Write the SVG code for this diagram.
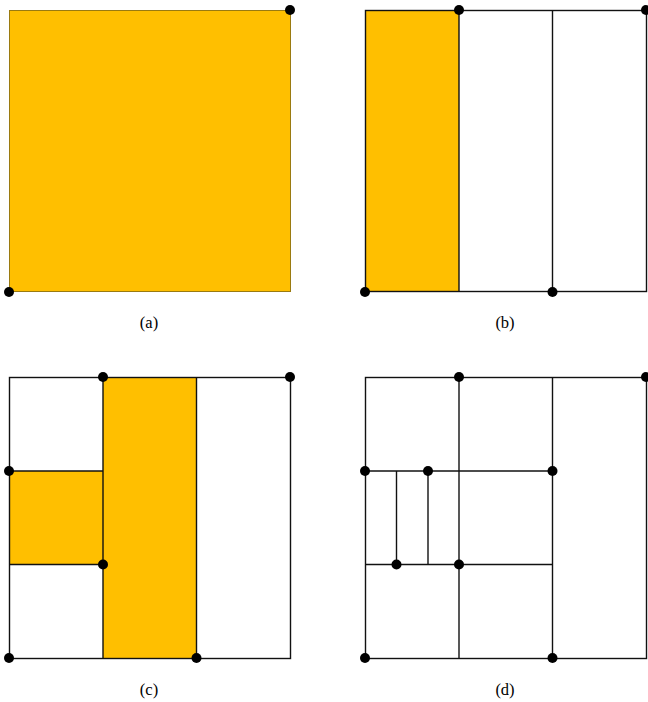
<svg xmlns="http://www.w3.org/2000/svg" width="648" height="702" viewBox="0 0 648 702">
<style>
.fill{fill:#FFBF00;stroke:none}
.ln{stroke:#111;stroke-width:1.4;fill:none}
.edge{stroke:#9a7a10;stroke-width:1;fill:#FFBF00}
.dot{fill:#000}
.lbl{font-family:"Liberation Serif","Times New Roman",serif;font-size:16.5px;text-anchor:middle;fill:#000}
</style>
<g id="panel-a">
<rect class="edge" x="9.5" y="10.5" width="281" height="281"/>
<circle class="dot" cx="290" cy="10" r="5"/>
<circle class="dot" cx="9" cy="292" r="5"/>
<text class="lbl" x="149" y="328">(a)</text>
</g>
<g id="panel-b">
<rect class="fill" x="365" y="10.5" width="94" height="281"/>
<rect class="ln" x="365.5" y="10.5" width="281" height="281"/>
<line class="ln" x1="459" y1="10.5" x2="459" y2="291.5"/>
<line class="ln" x1="552.5" y1="10.5" x2="552.5" y2="291.5"/>
<circle class="dot" cx="459" cy="10" r="5"/>
<circle class="dot" cx="646" cy="10" r="5"/>
<circle class="dot" cx="365" cy="292" r="5"/>
<circle class="dot" cx="552.5" cy="292" r="5"/>
<text class="lbl" x="505" y="328">(b)</text>
</g>
<g id="panel-c">
<rect class="fill" x="9" y="471" width="94" height="93"/>
<rect class="fill" x="103" y="377" width="93.5" height="281"/>
<rect class="ln" x="9.5" y="377.5" width="281" height="281"/>
<line class="ln" x1="103" y1="377.5" x2="103" y2="658.5"/>
<line class="ln" x1="196.5" y1="377.5" x2="196.5" y2="658.5"/>
<line class="ln" x1="9.5" y1="471" x2="103" y2="471"/>
<line class="ln" x1="9.5" y1="564.5" x2="103" y2="564.5"/>
<circle class="dot" cx="103" cy="377" r="5"/>
<circle class="dot" cx="290" cy="377" r="5"/>
<circle class="dot" cx="9" cy="471" r="5"/>
<circle class="dot" cx="103" cy="564.5" r="5"/>
<circle class="dot" cx="9" cy="658" r="5"/>
<circle class="dot" cx="196.5" cy="658" r="5"/>
<text class="lbl" x="149" y="695">(c)</text>
</g>
<g id="panel-d">
<rect class="ln" x="365.5" y="377.5" width="281" height="281"/>
<line class="ln" x1="459" y1="377.5" x2="459" y2="658.5"/>
<line class="ln" x1="552.5" y1="377.5" x2="552.5" y2="658.5"/>
<line class="ln" x1="365.5" y1="471" x2="552.5" y2="471"/>
<line class="ln" x1="365.5" y1="564.5" x2="552.5" y2="564.5"/>
<line class="ln" x1="396.5" y1="471" x2="396.5" y2="564.5"/>
<line class="ln" x1="428" y1="471" x2="428" y2="564.5"/>
<circle class="dot" cx="459" cy="377" r="5"/>
<circle class="dot" cx="646" cy="377" r="5"/>
<circle class="dot" cx="365" cy="471" r="5"/>
<circle class="dot" cx="428" cy="471" r="5"/>
<circle class="dot" cx="552.5" cy="471" r="5"/>
<circle class="dot" cx="396.5" cy="564.5" r="5"/>
<circle class="dot" cx="459" cy="564.5" r="5"/>
<circle class="dot" cx="365" cy="658" r="5"/>
<circle class="dot" cx="552.5" cy="658" r="5"/>
<text class="lbl" x="505" y="695">(d)</text>
</g>
</svg>
